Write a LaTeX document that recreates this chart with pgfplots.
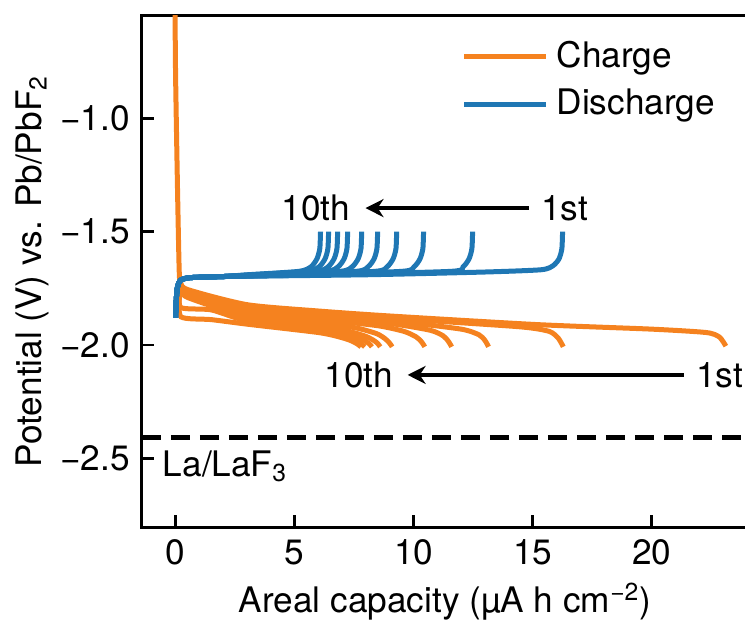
\documentclass[border=0pt]{standalone}
\usepackage{fontspec}
\setmainfont{TeX Gyre Heros}
\usepackage{pgfplots}
\pgfplotsset{compat=1.18}
\usetikzlibrary{calc,arrows.meta}

\definecolor{chg}{HTML}{F5821F}
\definecolor{dis}{HTML}{1F77B4}

\begin{document}
\fontsize{17.6}{21}\selectfont
\begin{tikzpicture}
\begin{axis}[
    name=ax,
    scale only axis,
    width=303pt, height=256pt,
    xmin=-1.41, xmax=24.05,
    ymin=-2.805, ymax=-0.5465,
    xtick={0,5,10,15,20},
    xticklabels={0,5,10,15,20},
    ytick={-2.5,-2,-1.5,-1},
    yticklabels={−2.5,−2.0,−1.5,−1.0},
    tick pos=left,
    tick align=inside,
    major tick length=6pt,
    tick style={line width=1.2pt, black},
    axis line style={line width=1.5pt},
    xlabel={Areal capacity (µA h cm\textsuperscript{−2})},
    ylabel={Potential (V) vs. Pb/PbF\textsubscript{2}},
    xlabel style={yshift=3pt},
    ylabel style={yshift=-6pt},
    clip mode=individual,
    legend style={draw=none, fill=none, at={(axis cs:12.0,-0.64)}, anchor=north west,
                  inner sep=0pt, row sep=4pt, column sep=2pt},
    legend cell align=left,
    legend image code/.code={\draw[#1, line width=2.5pt] (0pt,0pt) -- (41pt,0pt);},
    every axis plot/.append style={line width=2.5pt, smooth, tension=0.4},
]

% charge, 1st..10th
\addplot[chg] coordinates {(-0.03,-0.40) (0.0,-0.80) (0.08,-1.30) (0.15,-1.66) (0.2,-1.72) (0.5,-1.755) (3,-1.822) (6,-1.85) (9,-1.872) (15.2,-1.91) (20,-1.93) (22.3,-1.945) (22.85,-1.965) (23.12,-2.005)};
\addlegendentry{Charge}
\addplot[chg, forget plot] coordinates {(0.2,-1.72) (0.5,-1.76) (3,-1.826) (6,-1.857) (10,-1.888) (14.5,-1.92) (15.7,-1.94) (16.08,-1.97) (16.29,-2.008)};
\addplot[chg, forget plot] coordinates {(0.2,-1.72) (0.5,-1.765) (3,-1.83) (6,-1.865) (9.5,-1.898) (12.0,-1.93) (12.75,-1.955) (13.0,-1.98) (13.15,-2.008)};
\addplot[chg, forget plot] coordinates {(0.2,-1.73) (0.5,-1.77) (3,-1.835) (6,-1.875) (9,-1.905) (10.7,-1.935) (11.25,-1.96) (11.47,-1.985) (11.6,-2.008)};
\addplot[chg, forget plot] coordinates {(0.2,-1.73) (0.5,-1.775) (3,-1.842) (6,-1.885) (8.5,-1.915) (9.6,-1.94) (10.12,-1.965) (10.35,-1.988) (10.47,-2.008)};
\addplot[chg, forget plot] coordinates {(0.2,-1.74) (0.5,-1.78) (3,-1.852) (6,-1.898) (7.6,-1.925) (8.45,-1.95) (8.8,-1.972) (8.98,-1.99) (9.1,-2.008)};
\addplot[chg, forget plot] coordinates {(0.2,-1.74) (0.5,-1.785) (3,-1.862) (6,-1.912) (7.3,-1.94) (8.0,-1.962) (8.33,-1.98) (8.49,-1.993) (8.6,-2.008)};
\addplot[chg, forget plot] coordinates {(0.2,-1.75) (0.5,-1.79) (3,-1.875) (6,-1.925) (7.1,-1.948) (7.7,-1.968) (8.0,-1.984) (8.15,-1.996) (8.25,-2.008)};
\addplot[chg, forget plot] coordinates {(0.17,-1.76) (0.23,-1.835) (1.5,-1.845) (3,-1.893) (6,-1.935) (7.0,-1.958) (7.5,-1.976) (7.78,-1.993) (7.95,-2.008)};
\addplot[chg, forget plot] coordinates {(0.17,-1.78) (0.23,-1.876) (1.5,-1.888) (3,-1.908) (6,-1.945) (6.9,-1.965) (7.35,-1.98) (7.63,-1.995) (7.79,-2.008)};

% discharge, 1st..10th
\addplot[dis] coordinates {(0.0,-1.88) (0.03,-1.80) (0.08,-1.745) (0.2,-1.715) (0.6,-1.703) (2,-1.698) (8.13,-1.69) (13.0,-1.678) (15.36,-1.668) (15.86,-1.65) (16.11,-1.62) (16.23,-1.575) (16.26,-1.5)};
\addlegendentry{Discharge}
\addplot[dis, forget plot] coordinates {(0.0,-1.88) (0.03,-1.80) (0.08,-1.745) (0.2,-1.715) (0.6,-1.703) (2,-1.698) (6.24,-1.69) (11.58,-1.675) (12.08,-1.655) (12.33,-1.62) (12.45,-1.575) (12.48,-1.5)};
\addplot[dis, forget plot] coordinates {(0.0,-1.88) (0.03,-1.80) (0.08,-1.745) (0.2,-1.715) (0.6,-1.703) (2,-1.698) (5.21,-1.69) (9.52,-1.675) (10.02,-1.655) (10.27,-1.62) (10.39,-1.575) (10.42,-1.5)};
\addplot[dis, forget plot] coordinates {(0.0,-1.88) (0.03,-1.80) (0.08,-1.745) (0.2,-1.715) (0.6,-1.703) (2,-1.698) (4.645,-1.69) (8.39,-1.675) (8.89,-1.655) (9.14,-1.62) (9.26,-1.575) (9.29,-1.5)};
\addplot[dis, forget plot] coordinates {(0.0,-1.88) (0.03,-1.80) (0.08,-1.745) (0.2,-1.715) (0.6,-1.703) (2,-1.698) (4.245,-1.69) (7.59,-1.675) (8.09,-1.655) (8.34,-1.62) (8.46,-1.575) (8.49,-1.5)};
\addplot[dis, forget plot] coordinates {(0.0,-1.88) (0.03,-1.80) (0.08,-1.745) (0.2,-1.715) (0.6,-1.703) (2,-1.698) (3.91,-1.69) (6.92,-1.675) (7.42,-1.655) (7.67,-1.62) (7.79,-1.575) (7.82,-1.5)};
\addplot[dis, forget plot] coordinates {(0.0,-1.88) (0.03,-1.80) (0.08,-1.745) (0.2,-1.715) (0.6,-1.703) (2,-1.698) (3.615,-1.69) (6.33,-1.675) (6.83,-1.655) (7.08,-1.62) (7.20,-1.575) (7.23,-1.5)};
\addplot[dis, forget plot] coordinates {(0.0,-1.88) (0.03,-1.80) (0.08,-1.745) (0.2,-1.715) (0.6,-1.703) (2,-1.698) (3.405,-1.69) (5.91,-1.675) (6.41,-1.655) (6.66,-1.62) (6.78,-1.575) (6.81,-1.5)};
\addplot[dis, forget plot] coordinates {(0.0,-1.88) (0.03,-1.80) (0.08,-1.745) (0.2,-1.715) (0.6,-1.703) (2,-1.698) (3.215,-1.69) (5.53,-1.675) (6.03,-1.655) (6.28,-1.62) (6.40,-1.575) (6.43,-1.5)};
\addplot[dis, forget plot] coordinates {(0.0,-1.88) (0.03,-1.80) (0.08,-1.745) (0.2,-1.715) (0.6,-1.703) (2,-1.698) (3.045,-1.69) (5.19,-1.675) (5.69,-1.655) (5.94,-1.62) (6.06,-1.575) (6.09,-1.5)};

% La/LaF3 reference
\addplot[black, line width=2.5pt, sharp plot, dash pattern=on 9.5pt off 5pt, forget plot]
    coordinates {(-1.41,-2.41) (24.05,-2.41)};
\node[anchor=west, inner sep=0pt] at (axis cs:-0.55,-2.535) {La/LaF\textsubscript{3}};

% cycle arrows
\draw[-{Stealth[length=9pt,width=9pt]}, line width=2.3pt] (axis cs:14.83,-1.396) -- (axis cs:7.98,-1.396);
\node[anchor=east, inner sep=0pt] at (axis cs:7.35,-1.396) {10th};
\node[anchor=west, inner sep=0pt] at (axis cs:15.34,-1.396) {1st};
\draw[-{Stealth[length=9pt,width=9pt]}, line width=2.3pt] (axis cs:21.34,-2.132) -- (axis cs:9.75,-2.132);
\node[anchor=east, inner sep=0pt] at (axis cs:9.15,-2.132) {10th};
\node[anchor=west, inner sep=0pt] at (axis cs:21.85,-2.132) {1st};
\end{axis}
\pgfresetboundingbox
\path[use as bounding box] ($(ax.south west)+(-71pt,-47.25pt)$) rectangle ($(ax.north east)+(-1.5pt,7.75pt)$);
\end{tikzpicture}
\end{document}
